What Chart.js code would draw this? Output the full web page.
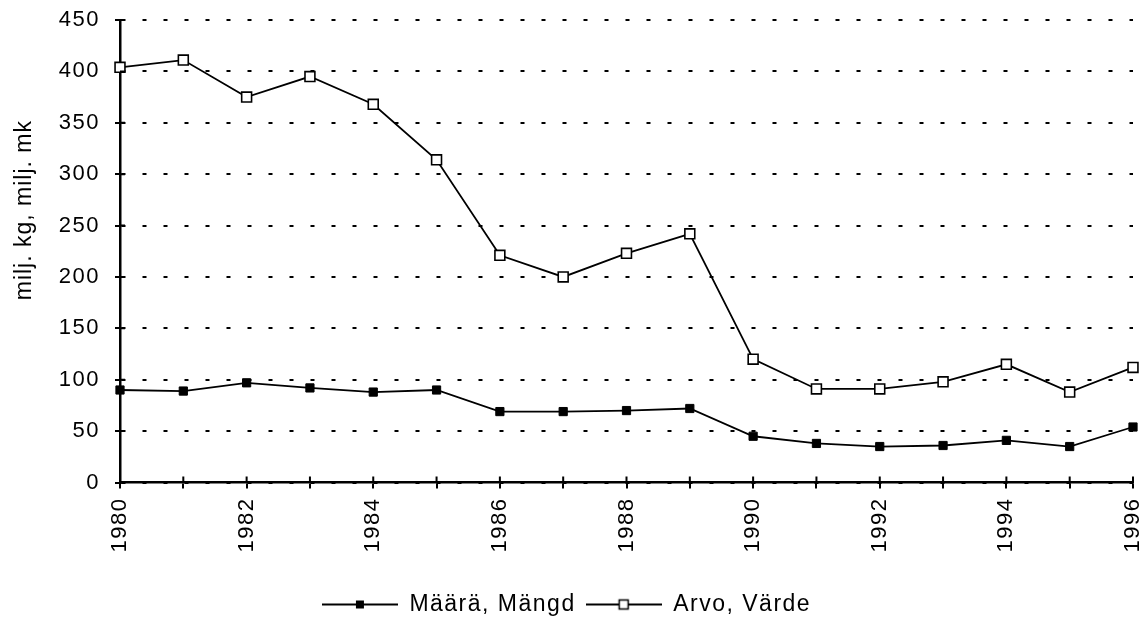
<!DOCTYPE html>
<html>
<head>
<meta charset="utf-8">
<script src="https://cdn.jsdelivr.net/npm/chart.js@4/dist/chart.umd.min.js"></script>
<style>
html,body{margin:0;padding:0;background:#fff;}
#wrap{width:1147px;height:626px;position:relative;}
</style>
</head>
<body>
<div id="wrap"><canvas id="c"></canvas></div>
<script>
const years = ['1980','1981','1982','1983','1984','1985','1986','1987','1988','1989','1990','1991','1992','1993','1994','1995','1996'];
const maara = [90, 89, 97, 92, 88, 90, 69, 69, 70, 72, 45, 38, 35, 36, 41, 35, 54];
const arvo  = [404, 411, 375, 395, 368, 314, 221, 200, 223, 242, 120, 91, 91, 98, 115, 88, 112];
const seriesNames = ['Määrä, Mängd', 'Arvo, Värde'];
const yTitle = 'milj. kg, milj. mk';

const FONT = 'Liberation Sans, Arial, Helvetica, sans-serif';
const SPACING = '1.5px';

function legendIcon(filled) {
  const c = document.createElement('canvas');
  c.width = 76; c.height = 14;
  const g = c.getContext('2d');
  g.strokeStyle = '#000'; g.lineWidth = 1.8;
  g.beginPath(); g.moveTo(0, 7); g.lineTo(76, 7); g.stroke();
  if (filled) {
    g.fillStyle = '#000'; g.fillRect(34, 3, 8, 8);
  } else {
    g.fillStyle = '#fff'; g.fillRect(33, 2, 10, 10);
    g.lineWidth = 1.5; g.strokeRect(33.5, 2.5, 9, 9);
  }
  return c;
}
const icons = [legendIcon(true), legendIcon(false)];

const spacingPlugin = {
  id: 'spacing',
  beforeUpdate(chart) { chart.ctx.letterSpacing = SPACING; },
  beforeLayout(chart) { chart.ctx.letterSpacing = SPACING; },
  beforeDraw(chart) { chart.ctx.letterSpacing = SPACING; }
};

const crossTicks = {
  id: 'crossTicks',
  afterDraw(chart) {
    const ctx = chart.ctx;
    const xs = chart.scales.x, ys = chart.scales.y;
    ctx.save();
    ctx.strokeStyle = '#000'; ctx.lineWidth = 2;
    ctx.beginPath();
    for (let i = 0; i < xs.ticks.length; i++) {
      const px = xs.getPixelForTick(i);
      ctx.moveTo(px, ys.bottom); ctx.lineTo(px, ys.bottom - 6);
    }
    for (let i = 0; i < ys.ticks.length; i++) {
      const py = ys.getPixelForTick(i);
      ctx.moveTo(xs.left, py); ctx.lineTo(xs.left + 5, py);
    }
    ctx.stroke();
    // y axis title
    ctx.letterSpacing = '1px';
    ctx.font = '23px ' + FONT;
    ctx.fillStyle = '#000';
    ctx.textAlign = 'center';
    ctx.textBaseline = 'middle';
    ctx.translate(25, ys.getPixelForValue(265));
    ctx.rotate(-Math.PI / 2);
    ctx.fillText(yTitle, 0, 0);
    ctx.restore();
  }
};

new Chart(document.getElementById('c'), {
  type: 'line',
  data: {
    labels: years,
    datasets: [
      {
        label: seriesNames[0], data: maara,
        borderColor: '#000', borderWidth: 1.8,
        pointStyle: 'rect', pointRadius: 5.8,
        pointBackgroundColor: '#000', pointBorderColor: '#000', pointBorderWidth: 1,
        tension: 0, fill: false
      },
      {
        label: seriesNames[1], data: arvo,
        borderColor: '#000', borderWidth: 1.8,
        pointStyle: 'rect', pointRadius: 7,
        pointBackgroundColor: '#fff', pointBorderColor: '#000', pointBorderWidth: 1.6,
        tension: 0, fill: false
      }
    ]
  },
  options: {
    responsive: true,
    maintainAspectRatio: false,
    animation: false,
    layout: { padding: { top: 20, right: 14, left: 0, bottom: 0 } },
    plugins: {
      tooltip: { enabled: false },
      legend: {
        position: 'bottom',
        labels: {
          usePointStyle: true,
          pointStyleWidth: 76,
          color: '#000',
          padding: 10,
          font: { family: FONT, size: 23 },
          generateLabels(chart) {
            return chart.data.datasets.map((ds, i) => ({
              text: ds.label,
              pointStyle: icons[i],
              fillStyle: '#000', strokeStyle: '#000', lineWidth: 0,
              fontColor: '#000',
              hidden: false, datasetIndex: i
            }));
          }
        }
      }
    },
    scales: {
      x: {
        afterFit(s) { s.height = 100.5; s.paddingLeft = 0; s.paddingRight = 0; },
        grid: { display: true, drawOnChartArea: false, drawTicks: true, tickLength: 6, color: '#000', lineWidth: 2 },
        border: { display: true, color: '#000', width: 2.5 },
        ticks: {
          color: '#000', autoSkip: false, maxRotation: 90, minRotation: 90, padding: 9,
          font: { family: FONT, size: 22 },
          callback(v, i) { return i % 2 === 0 ? years[i] : ''; }
        }
      },
      y: {
        min: 0, max: 450,
        afterFit(s) { s.width = 120; s.paddingTop = 0; s.paddingBottom = 0; },
        grid: { display: true, drawOnChartArea: true, drawTicks: true, tickLength: 5, color: '#000', lineWidth: 2, tickColor: '#000', tickWidth: 2 },
        border: { display: true, color: '#000', width: 2.5, dash: [4, 17] },
        ticks: { color: '#000', stepSize: 50, padding: 15, font: { family: FONT, size: 22 } },
        title: { display: false, text: yTitle }
      }
    }
  },
  plugins: [spacingPlugin, crossTicks]
});
</script>
</body>
</html>
